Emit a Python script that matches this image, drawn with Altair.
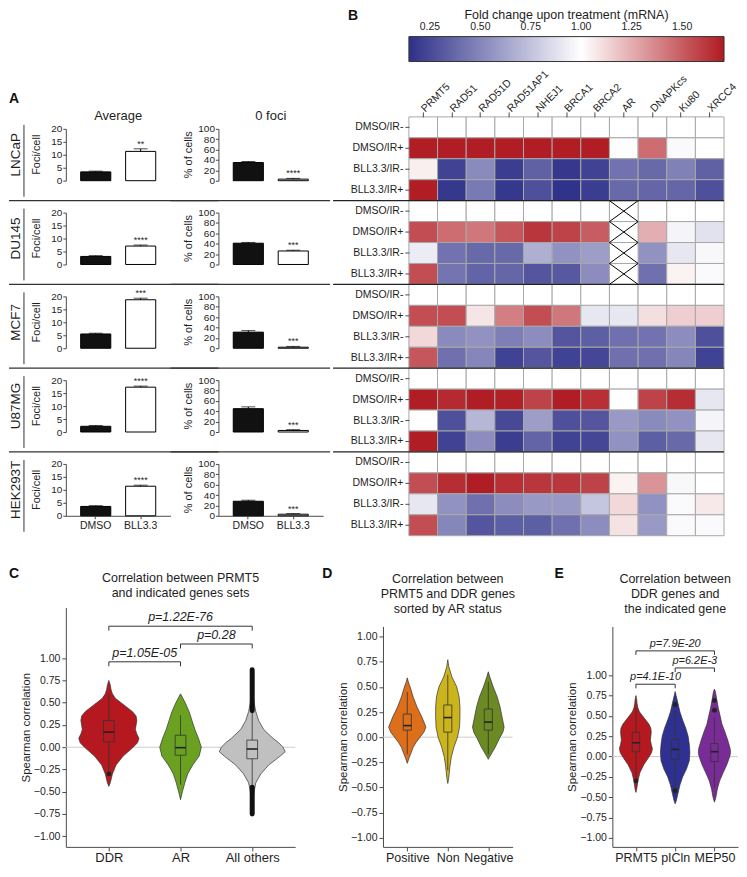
import altair as alt
import pandas as pd

FONT = "Liberation Sans"
DARK = "#1e1e1e"
AXC = "#4a4a4a"

# ---------------- Panel A: foci bar charts ----------------
cell_lines = ["LNCaP", "DU145", "MCF7", "U87MG", "HEK293T"]
conditions = ["DMSO", "BLL3.3"]
measures = ["Average", "0 foci"]
measure_ylabels = ["Foci/cell", "% of cells"]
measure_ymax = [20, 100]

avg_dmso = [3.4, 3.1, 5.5, 2.2, 3.6]
avg_dmso_err = [0.3, 0.3, 0.3, 0.3, 0.3]
avg_bll = [11.3, 7.1, 18.7, 17.3, 11.4]
avg_bll_err = [1.0, 0.4, 0.6, 0.4, 0.4]
avg_sig = ["**", "****", "***", "****", "****"]

zero_dmso = [35, 41, 31, 45, 28]
zero_dmso_err = [2.0, 1.5, 3.0, 3.5, 2.0]
zero_bll = [3, 26, 2, 3, 3]
zero_bll_err = [1.5, 1.5, 1.5, 1.5, 1.2]
zero_sig = ["****", "***", "***", "***", "***"]

# ---------------- Panel B: heatmap ----------------
genes = ["PRMT5", "RAD51", "RAD51D", "RAD51AP1", "NHEJ1", "BRCA1", "BRCA2",
         "AR", "DNAPKcs", "Ku80", "XRCC4"]
treatments = ["DMSO/IR-", "DMSO/IR+", "BLL3.3/IR-", "BLL3.3/IR+"]
NA = None
fc_LNCaP = [
    [1.00, 1.00, 1.00, 1.00, 1.00, 1.00, 1.00, 1.00, 1.00, 1.00, 1.00],
    [1.70, 1.70, 1.70, 1.70, 1.70, 1.70, 1.70, 0.99, 1.45, 0.98, 1.00],
    [1.05, 0.22, 0.52, 0.20, 0.35, 0.18, 0.22, 0.42, 0.38, 0.48, 0.35],
    [1.70, 0.18, 0.45, 0.18, 0.28, 0.16, 0.20, 0.38, 0.37, 0.37, 0.28],
]
fc_DU145 = [
    [1.00, 1.00, 1.00, 1.00, 1.00, 1.00, 1.00, NA, 1.00, 1.00, 1.00],
    [1.55, 1.45, 1.42, 1.52, 1.62, 1.58, 1.50, NA, 1.25, 0.96, 0.88],
    [0.92, 0.42, 0.38, 0.38, 0.67, 0.55, 0.60, NA, 0.55, 0.90, 0.97],
    [1.55, 0.43, 0.36, 0.37, 0.30, 0.31, 0.53, NA, 0.41, 1.04, 0.98],
]
fc_MCF7 = [
    [1.00, 1.00, 1.00, 1.00, 1.00, 1.00, 1.00, 1.00, 1.00, 1.00, 1.00],
    [1.55, 1.55, 1.08, 1.40, 1.55, 1.42, 0.90, 0.90, 1.10, 1.15, 1.15],
    [1.12, 0.52, 0.55, 0.47, 0.53, 0.30, 0.34, 0.41, 0.42, 0.53, 0.28],
    [1.52, 0.41, 0.50, 0.22, 0.30, 0.22, 0.24, 0.41, 0.41, 0.50, 0.22],
]
fc_U87MG = [
    [1.00, 1.00, 1.00, 1.00, 1.00, 1.00, 1.00, 1.00, 1.00, 1.00, 1.00],
    [1.70, 1.66, 1.70, 1.69, 1.58, 1.70, 1.64, 1.00, 1.58, 1.65, 0.90],
    [1.00, 0.28, 0.70, 0.25, 0.60, 0.28, 0.30, 0.58, 0.52, 0.55, 0.96],
    [1.70, 0.22, 0.53, 0.20, 0.36, 0.22, 0.24, 0.55, 0.34, 0.38, 0.90],
]
fc_HEK293T = [
    [1.00, 1.00, 1.00, 1.00, 1.00, 1.00, 1.00, 1.00, 1.00, 1.00, 1.00],
    [1.55, 1.65, 1.70, 1.64, 1.62, 1.62, 1.58, 1.04, 1.33, 0.97, 1.00],
    [0.90, 0.55, 0.41, 0.53, 0.58, 0.58, 0.76, 1.12, 0.55, 0.98, 1.07],
    [1.55, 0.50, 0.30, 0.34, 0.34, 0.41, 0.53, 1.09, 0.58, 0.98, 0.98],
]
fc_tables = [fc_LNCaP, fc_DU145, fc_MCF7, fc_U87MG, fc_HEK293T]
fc_domain = [0.146, 1.0, 1.708]
fc_colors = ["#2e3089", "#ffffff", "#b01a21"]
fc_ticks = [0.25, 0.50, 0.75, 1.00, 1.25, 1.50]

# ---------------- Panel C ----------------
C_cats = ["DDR", "AR", "All others"]
C_colors = ["#b5191f", "#6aa121", "#c0c0c0"]
ddr_y = [-0.44, -0.4, -0.3, -0.2, -0.1, 0.0, 0.05, 0.1, 0.15, 0.2, 0.25, 0.3, 0.35, 0.4, 0.45, 0.5, 0.55, 0.6, 0.65, 0.7, 0.75]
ddr_w = [0.0, 0.02, 0.05, 0.10, 0.20, 0.34, 0.40, 0.42, 0.39, 0.37, 0.38, 0.39, 0.38, 0.33, 0.25, 0.17, 0.09, 0.05, 0.03, 0.02, 0.0]
ar_y = [-0.59, -0.5, -0.4, -0.3, -0.2, -0.1, 0.0, 0.1, 0.2, 0.3, 0.4, 0.5, 0.55, 0.6]
ar_w = [0.0, 0.026, 0.06, 0.10, 0.17, 0.26, 0.29, 0.25, 0.20, 0.16, 0.12, 0.065, 0.033, 0.0]
oth_y = [-0.75, -0.6, -0.5, -0.4, -0.3, -0.2, -0.1, -0.05, 0.0, 0.05, 0.1, 0.2, 0.3, 0.4, 0.5, 0.6, 0.7, 0.87]
oth_w = [0.0, 0.013, 0.026, 0.05, 0.12, 0.23, 0.39, 0.46, 0.43, 0.37, 0.29, 0.16, 0.09, 0.05, 0.026, 0.013, 0.007, 0.0]
# box stats: lo, q1, median, q3, hi
C_box = {"DDR": [-0.27, 0.06, 0.17, 0.30, 0.60],
         "AR": [-0.42, -0.09, -0.005, 0.135, 0.36],
         "All others": [-0.445, -0.13, -0.02, 0.08, 0.40]}
C_outliers = [("DDR", -0.30)]
C_outlier_bands = [("All others", 0.41, 0.87), ("All others", -0.75, -0.45)]
C_brackets = [("DDR", "AR", 0.96, "p=1.05E-05"),
              ("AR", "All others", 1.16, "p=0.28"),
              ("DDR", "All others", 1.36, "p=1.22E-76")]

# ---------------- Panel D ----------------
D_cats = ["Positive", "Non", "Negative"]
D_colors = ["#dd6f1b", "#cbb41c", "#6b8a23"]
pos_y = [-0.26, -0.2, -0.15, -0.1, -0.05, 0.0, 0.05, 0.1, 0.15, 0.2, 0.3, 0.4, 0.5, 0.55, 0.59]
pos_w = [0.0, 0.05, 0.10, 0.145, 0.22, 0.315, 0.41, 0.46, 0.41, 0.36, 0.24, 0.145, 0.07, 0.025, 0.0]
non_y = [-0.46, -0.4, -0.3, -0.2, -0.1, 0.0, 0.1, 0.2, 0.3, 0.4, 0.5, 0.6, 0.7, 0.77]
non_w = [0.0, 0.025, 0.05, 0.085, 0.15, 0.24, 0.29, 0.30, 0.30, 0.28, 0.22, 0.10, 0.025, 0.0]
neg_y = [-0.22, -0.2, -0.1, 0.0, 0.05, 0.1, 0.2, 0.3, 0.4, 0.5, 0.6, 0.65]
neg_w = [0.0, 0.025, 0.17, 0.29, 0.36, 0.39, 0.34, 0.29, 0.22, 0.12, 0.036, 0.0]
D_box = {"Positive": [-0.17, 0.07, 0.115, 0.23, 0.45],
         "Non": [-0.33, 0.05, 0.195, 0.32, 0.62],
         "Negative": [-0.17, 0.07, 0.15, 0.28, 0.55]}

# ---------------- Panel E ----------------
E_cats = ["PRMT5", "pICln", "MEP50"]
E_colors = ["#b5191f", "#2e3192", "#7a2c96"]
picln_y = [-0.58, -0.55, -0.45, -0.35, -0.25, -0.15, -0.05, 0.05, 0.15, 0.25, 0.35, 0.45, 0.55, 0.65, 0.75, 0.8]
picln_w = [0.0, 0.024, 0.073, 0.12, 0.19, 0.29, 0.36, 0.375, 0.36, 0.33, 0.27, 0.19, 0.12, 0.073, 0.024, 0.0]
mep50_y = [-0.56, -0.5, -0.4, -0.3, -0.2, -0.1, 0.0, 0.05, 0.1, 0.2, 0.3, 0.4, 0.5, 0.6, 0.7, 0.8, 0.83]
mep50_w = [0.0, 0.036, 0.073, 0.13, 0.22, 0.315, 0.39, 0.41, 0.40, 0.34, 0.27, 0.19, 0.145, 0.097, 0.06, 0.024, 0.0]
E_box = {"PRMT5": [-0.27, 0.06, 0.17, 0.30, 0.60],
         "pICln": [-0.39, -0.035, 0.09, 0.21, 0.57],
         "MEP50": [-0.38, -0.06, 0.06, 0.16, 0.48]}
E_outliers = [("PRMT5", -0.30), ("pICln", 0.64), ("pICln", -0.42), ("MEP50", 0.69), ("MEP50", 0.57)]
E_brackets = [("PRMT5", "pICln", 0.89, "p=4.1E-10"),
              ("pICln", "MEP50", 1.09, "p=6.2E-3"),
              ("PRMT5", "MEP50", 1.30, "p=7.9E-20")]

# =====================================================================
# Panel A chart (faceted)
# =====================================================================
recs = []
series = {
    "Average": {"DMSO": (avg_dmso, avg_dmso_err, [""] * 5), "BLL3.3": (avg_bll, avg_bll_err, avg_sig)},
    "0 foci": {"DMSO": (zero_dmso, zero_dmso_err, [""] * 5), "BLL3.3": (zero_bll, zero_bll_err, zero_sig)},
}
for i, ln in enumerate(cell_lines):
    for m, meas in enumerate(measures):
        for cnd in conditions:
            v, e, s = series[meas][cnd]
            recs.append({"line": ln, "measure": meas, "cond": cnd, "value": v[i], "err": e[i],
                         "sig": s[i], "ylab": measure_ylabels[m], "ymax": measure_ymax[m]})
dfA = pd.DataFrame(recs)

TOPSHIFT = -108
WA, HA, TOPA = 105, 64, 12   # cell height; bars drawn in [TOPA, HA]
xA = alt.X("cond:N", sort=conditions, title=None,
           scale=alt.Scale(paddingInner=0.33, paddingOuter=0.33),
           axis=alt.Axis(labelAngle=0, labelFontSize=10.5, labelColor=DARK, domainColor=AXC,
                         tickColor=AXC, tickSize=3, labelPadding=2))
yAxisA = alt.Axis(tickCount=5, grid=False, labelFontSize=10, labelColor=DARK, domainColor=AXC,
                  tickColor=AXC, tickSize=3, labelPadding=1, labelFlush=False, labelOverlap=False)
yScaleA = alt.Scale(range=[HA, TOPA])


def yA(field):
    return alt.Y(f"{field}:Q", axis=yAxisA, scale=yScaleA, title=None)


MID = (HA + TOPA) / 2
bars = alt.Chart().mark_bar(stroke="black", strokeWidth=1).encode(
    x=xA, y=yA("value"),
    fill=alt.Fill("cond:N", scale=alt.Scale(domain=conditions, range=["#111111", "#ffffff"]), legend=None))
errA = alt.Chart().transform_calculate(hi="datum.value + datum.err").mark_rule(
    color="black", strokeWidth=1).encode(x=xA, y=yA("value"), y2=alt.Y2("hi"))
capA = alt.Chart().transform_calculate(hi="datum.value + datum.err").mark_tick(
    color="black", thickness=1, size=14).encode(x=xA, y=yA("hi"))
sigA = alt.Chart().transform_calculate(hi="datum.value + datum.err").mark_text(
    baseline="bottom", dy=0, fontSize=9, color=DARK).encode(x=xA, y=yA("hi"), text="sig:N")
hidA = alt.Chart().mark_point(opacity=0).encode(x=xA, y=yA("ymax"))
ylabA = alt.Chart().transform_filter("datum.cond == 'DMSO'").mark_text(
    angle=270, fontSize=11, color=DARK).encode(x=alt.value(-29), y=alt.value(MID), text="ylab:N")
first_avg = "datum.cond == 'DMSO' && datum.measure == 'Average'"
clabA = alt.Chart().transform_filter(first_avg).mark_text(
    angle=270, fontSize=13.5, color=DARK).encode(x=alt.value(-50), y=alt.value(MID), text="line:N")
vlineA = alt.Chart().transform_filter(first_avg).mark_rule(color="#333333", strokeWidth=1).encode(
    x=alt.value(-42), y=alt.value(8), y2=alt.value(80))
sep1 = alt.Chart().transform_filter(first_avg + " && datum.line != 'HEK293T'").mark_rule(
    color="#333333", strokeWidth=1.3).encode(x=alt.value(-57), x2=alt.value(WA + 48), y=alt.value(84))
sep2 = alt.Chart().transform_filter(
    "datum.cond == 'DMSO' && datum.measure == '0 foci' && datum.line != 'HEK293T'").mark_rule(
    color="#333333", strokeWidth=1.3).encode(x=alt.value(-48), x2=alt.value(WA + 7), y=alt.value(84))
first_row = "datum.cond == 'DMSO' && datum.line == 'LNCaP'"
headA = alt.Chart().transform_filter(first_row).mark_text(fontSize=13, color=DARK).encode(
    x=alt.value(WA / 2), y=alt.value(-1), text="measure:N")
letterA = alt.Chart().transform_filter(first_row + " && datum.measure == 'Average'").mark_text(
    text="A", align="left", baseline="top", fontSize=14, fontWeight="bold", color="#111111").encode(
    x=alt.value(-57), y=alt.value(-25))
spacerA = alt.Chart().transform_filter(first_row + " && datum.measure == 'Average'").mark_rule(
    opacity=0).encode(x=alt.value(0), x2=alt.value(1), y=alt.value(TOPSHIFT))

chartA = alt.layer(bars, errA, capA, sigA, hidA, ylabA, clabA, vlineA, sep1, sep2, headA,
                   letterA, spacerA, data=dfA).properties(width=WA, height=HA).facet(
    row=alt.Row("line:N", sort=cell_lines, header=None),
    column=alt.Column("measure:N", sort=measures, header=None),
    spacing={"row": 84 - HA, "column": 48}, bounds="flush").resolve_scale(y="independent")

# =====================================================================
# Panel B chart (heatmap)
# =====================================================================
recsB = []
row_ids = []
for ln, tab in zip(cell_lines, fc_tables):
    for t, trow in zip(treatments, tab):
        rid = f"{ln}|{t}"
        row_ids.append(rid)
        for g, v in zip(genes, trow):
            recsB.append({"line": ln, "treat": t, "row": rid, "gene": g, "fc": v})
dfB = pd.DataFrame(recsB)
dfSep = dfB[(dfB["treat"] == treatments[0]) & (dfB["line"] != cell_lines[0]) & (dfB["gene"] == genes[0])]

WB, HB = 316, 420
xB = alt.X("gene:N", sort=genes, title=None, scale=alt.Scale(paddingInner=0, paddingOuter=0),
           axis=alt.Axis(orient="top", labelAngle=-45, labelAlign="left", labelBaseline="middle",
                         labelFontSize=10.5, labelColor=DARK, domain=False, tickColor=AXC, tickSize=5,
                         labelPadding=2, labelOverlap=False, labelBound=False))
yB = alt.Y("row:N", sort=row_ids, title=None, scale=alt.Scale(paddingInner=0, paddingOuter=0),
           axis=alt.Axis(labelExpr="split(datum.label, '|')[1]", labelFontSize=10.5, labelColor=DARK,
                         domain=False, tickColor=AXC, tickSize=4, labelPadding=2, labelOverlap=False))

cells = alt.Chart(dfB).transform_filter("isValid(datum.fc)").mark_rect(
    stroke="#a8a8a8", strokeWidth=1).encode(
    x=xB, y=yB,
    color=alt.Color("fc:Q", scale=alt.Scale(domain=fc_domain, range=fc_colors, interpolate="rgb"),
                    legend=alt.Legend(orient="none", legendX=0, legendY=TOPSHIFT, direction="horizontal",
                                      gradientLength=WB, gradientThickness=25,
                                      title="Fold change upon treatment (mRNA)", titleFontSize=12.5,
                                      titleFontWeight="normal", titleColor=DARK, titleAnchor="middle",
                                      titleLimit=400, titlePadding=15, values=fc_ticks, format=".2f",
                                      labelFontSize=10.5, labelColor=DARK,
                                      labelOffset={"expr": "-40"},
                                      gradientStrokeColor="#333333", gradientStrokeWidth=1)))
missing = alt.Chart(dfB).transform_filter("!isValid(datum.fc)").mark_rect(
    fill="white", stroke="#a8a8a8", strokeWidth=1).encode(x=xB, y=yB)
cross = alt.Chart(dfB).transform_filter("!isValid(datum.fc)").mark_point(
    shape="M -1 -0.73 L 1 0.73 M -1 0.73 L 1 -0.73", size=824, filled=False, color="black",
    strokeWidth=1, opacity=1).encode(x=xB, y=yB)
seps = alt.Chart(dfSep).mark_rule(color="#222222", strokeWidth=1.3).encode(
    y=alt.Y("row:N", sort=row_ids, bandPosition=0, title=None), x=alt.value(-76), x2=alt.value(WB))
letterB = alt.Chart(pd.DataFrame({"t": ["B"]})).mark_text(
    text="B", align="left", baseline="top", fontSize=14, fontWeight="bold", color="#111111").encode(
    x=alt.value(-61), y=alt.value(TOPSHIFT))

chartB = alt.layer(cells, missing, cross, seps, letterB).properties(width=WB, height=HB)


# =====================================================================
# Panels C, D, E (violins)
# =====================================================================
HV = 240


def violin_panel(cats, colors, profiles, boxes, outliers, bands, brackets, ydom, W, ytop,
                 title_lines, title_y, letter, ldx, box_hw, xlab_size, ptext_size,
                 extend_right=None):
    center = {c: i + 1 for i, c in enumerate(cats)}
    xs = alt.Scale(domain=[0.4, 3.6], nice=False, zero=False)
    ys = alt.Scale(domain=ydom, nice=False, zero=False, range=[HV, ytop])
    label_expr = " : ".join(f"datum.value == {i + 1} ? '{c}'" for i, c in enumerate(cats[:-1])) \
        + f" : '{cats[-1]}'"
    xaxis = alt.Axis(values=[1, 2, 3], labelExpr=label_expr, grid=False, labelFontSize=xlab_size,
                     labelColor=DARK, tickColor=AXC, domainColor=AXC, tickSize=4, labelPadding=1,
                     labelOverlap=False, labelFlush=False, title=None)
    yaxis = alt.Axis(values=[-1, -0.75, -0.5, -0.25, 0, 0.25, 0.5, 0.75, 1], format=".2f", grid=False,
                     title="Spearman correlation", titleFontSize=11.5, titleFontWeight="normal",
                     titleColor=DARK, titlePadding=2, labelFontSize=10.5, labelColor=DARK,
                     tickColor=AXC, domainColor=AXC, tickSize=4, labelPadding=2, labelFlush=False,
                     labelOverlap=False)

    def X(f):
        return alt.X(f"{f}:Q", scale=xs, axis=xaxis, title=None)

    def Y(f):
        return alt.Y(f"{f}:Q", scale=ys, axis=yaxis)

    vrows = []
    for c in cats:
        ys_, ws_ = profiles[c]
        for yv, wv in zip(ys_, ws_):
            vrows.append({"cat": c, "y": yv, "xl": center[c] - wv, "xr": center[c] + wv})
    vdf = pd.DataFrame(vrows)
    brows = []
    for c in cats:
        lo, q1, md, q3, hi = boxes[c]
        brows.append({"cat": c, "c": center[c], "bl": center[c] - box_hw, "br": center[c] + box_hw,
                      "lo": lo, "q1": q1, "med": md, "q3": q3, "hi": hi})
    bdf = pd.DataFrame(brows)
    one = pd.DataFrame({"z": [0.0]})

    layers = []
    layers.append(alt.Chart(one).mark_rule(color="#cccccc", strokeWidth=1).encode(y=Y("z")))
    layers.append(alt.Chart(vdf).mark_area(orient="horizontal", stroke="#333333", strokeWidth=0.7,
                                           opacity=1).encode(
        y=Y("y"), x=X("xl"), x2=alt.X2("xr"),
        fill=alt.Fill("cat:N", scale=alt.Scale(domain=cats, range=colors), legend=None),
        detail="cat:N"))
    layers.append(alt.Chart(bdf).mark_rule(color="#333333", strokeWidth=0.8).encode(
        x=X("c"), y=Y("lo"), y2=alt.Y2("q1")))
    layers.append(alt.Chart(bdf).mark_rule(color="#333333", strokeWidth=0.8).encode(
        x=X("c"), y=Y("q3"), y2=alt.Y2("hi")))
    layers.append(alt.Chart(bdf).mark_rect(fillOpacity=0, stroke="#333333", strokeWidth=0.8).encode(
        x=X("bl"), x2=alt.X2("br"), y=Y("q1"), y2=alt.Y2("q3")))
    layers.append(alt.Chart(bdf).mark_rule(color="#222222", strokeWidth=1.6).encode(
        x=X("bl"), x2=alt.X2("br"), y=Y("med")))
    if outliers:
        odf = pd.DataFrame([{"c": center[c], "y": v} for c, v in outliers])
        layers.append(alt.Chart(odf).mark_circle(size=24, color="#222222", opacity=1).encode(
            x=X("c"), y=Y("y")))
    if bands:
        ndf = pd.DataFrame([{"c": center[c], "lo": lo, "hi": hi} for c, lo, hi in bands])
        layers.append(alt.Chart(ndf).mark_rule(color="#111111", strokeWidth=5, strokeCap="round").encode(
            x=X("c"), y=Y("lo"), y2=alt.Y2("hi")))
    if brackets:
        kdf = pd.DataFrame([{"x1": center[a], "x2": center[b], "xm": (center[a] + center[b]) / 2,
                             "y": yv, "yt": yv - 0.05, "label": lab} for a, b, yv, lab in brackets])
        layers.append(alt.Chart(kdf).mark_rule(color="#333333", strokeWidth=1).encode(
            x=X("x1"), x2=alt.X2("x2"), y=Y("y")))
        layers.append(alt.Chart(kdf).mark_rule(color="#333333", strokeWidth=1).encode(
            x=X("x1"), y=Y("y"), y2=alt.Y2("yt")))
        layers.append(alt.Chart(kdf).mark_rule(color="#333333", strokeWidth=1).encode(
            x=X("x2"), y=Y("y"), y2=alt.Y2("yt")))
        layers.append(alt.Chart(kdf).mark_text(fontStyle="italic", fontSize=ptext_size, baseline="bottom",
                                               dy=-2, color=DARK).encode(
            x=X("xm"), y=Y("y"), text="label:N"))
    # panel title lines and panel letter
    layers.append(alt.Chart(one).mark_text(text=title_lines, align="center", baseline="top",
                                           fontSize=12.5, lineHeight=15, color=DARK).encode(
        x=alt.value(W / 2), y=alt.value(title_y)))
    layers.append(alt.Chart(one).mark_text(text=letter, align="left", baseline="top", fontSize=14,
                                           fontWeight="bold", color="#111111").encode(
        x=alt.value(ldx), y=alt.value(-41)))
    if extend_right is not None:
        layers.append(alt.Chart(one).mark_rule(opacity=0).encode(
            x=alt.value(extend_right), x2=alt.value(extend_right + 1), y=alt.value(HV / 2)))
    return alt.layer(*layers).properties(width=W, height=HV)


chartC = violin_panel(C_cats, C_colors,
                      {"DDR": (ddr_y, ddr_w), "AR": (ar_y, ar_w), "All others": (oth_y, oth_w)},
                      C_box, C_outliers, C_outlier_bands, C_brackets, [-1.12, 1.57], 230, 0,
                      ["Correlation between PRMT5", "and indicated genes sets"], -36, "C", -57,
                      0.075, 13, 12.5)
chartD = violin_panel(D_cats, D_colors,
                      {"Positive": (pos_y, pos_w), "Non": (non_y, non_w), "Negative": (neg_y, neg_w)},
                      D_box, [], [], [], [-1.09, 1.10], 130, 19,
                      ["Correlation between", "PRMT5 and DDR genes", "sorted by AR status"], -35, "D", -61,
                      0.1, 12.5, 11, extend_right=145)
chartE = violin_panel(E_cats, E_colors,
                      {"PRMT5": (ddr_y, ddr_w), "pICln": (picln_y, picln_w), "MEP50": (mep50_y, mep50_w)},
                      E_box, E_outliers, [], E_brackets, [-1.11, 1.60], 126, 19,
                      ["Correlation between", "DDR genes and", "the indicated gene"], -35, "E", -58,
                      0.095, 12.5, 11)

top_row = alt.hconcat(chartA, chartB, spacing=1).resolve_scale(color="independent").resolve_legend(
    color="independent")
bottom_row = alt.hconcat(chartC, chartD, chartE, spacing=26).resolve_scale(fill="independent")
chart = alt.vconcat(top_row, bottom_row, spacing=30).resolve_scale(
    fill="independent", color="independent").resolve_legend(color="independent").properties(
    padding=0).configure(font=FONT).configure_view(stroke=None)

chart.save("out.html", embed_options={"renderer": "svg", "actions": False})
